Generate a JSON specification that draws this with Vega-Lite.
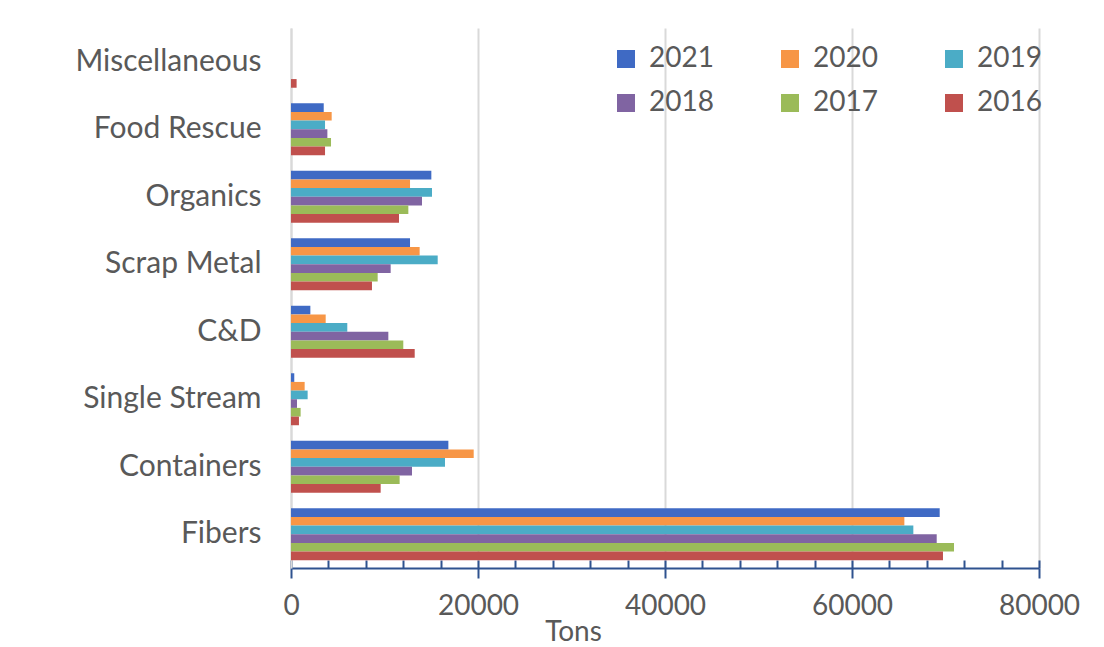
{
  "$schema": "https://vega.github.io/schema/vega-lite/v6.json",
  "width": 748,
  "height": 540,
  "autosize": {"type": "none"},
  "padding": {"left": 291, "top": 28, "right": 65, "bottom": 79},
  "background": "white",
  "config": {"view": {"stroke": null}, "font": "Lato"},
  "data": {
    "values": [
      {"category": "Miscellaneous", "year": "2021", "tons": 0},
      {"category": "Miscellaneous", "year": "2020", "tons": 0},
      {"category": "Miscellaneous", "year": "2019", "tons": 0},
      {"category": "Miscellaneous", "year": "2018", "tons": 0},
      {"category": "Miscellaneous", "year": "2017", "tons": 0},
      {"category": "Miscellaneous", "year": "2016", "tons": 600},
      {"category": "Food Rescue", "year": "2021", "tons": 3500},
      {"category": "Food Rescue", "year": "2020", "tons": 4350},
      {"category": "Food Rescue", "year": "2019", "tons": 3640},
      {"category": "Food Rescue", "year": "2018", "tons": 3890},
      {"category": "Food Rescue", "year": "2017", "tons": 4280},
      {"category": "Food Rescue", "year": "2016", "tons": 3640},
      {"category": "Organics", "year": "2021", "tons": 15010},
      {"category": "Organics", "year": "2020", "tons": 12730},
      {"category": "Organics", "year": "2019", "tons": 15080},
      {"category": "Organics", "year": "2018", "tons": 14010},
      {"category": "Organics", "year": "2017", "tons": 12550},
      {"category": "Organics", "year": "2016", "tons": 11550},
      {"category": "Scrap Metal", "year": "2021", "tons": 12730},
      {"category": "Scrap Metal", "year": "2020", "tons": 13760},
      {"category": "Scrap Metal", "year": "2019", "tons": 15690},
      {"category": "Scrap Metal", "year": "2018", "tons": 10660},
      {"category": "Scrap Metal", "year": "2017", "tons": 9270},
      {"category": "Scrap Metal", "year": "2016", "tons": 8660},
      {"category": "C&D", "year": "2021", "tons": 2070},
      {"category": "C&D", "year": "2020", "tons": 3710},
      {"category": "C&D", "year": "2019", "tons": 6020},
      {"category": "C&D", "year": "2018", "tons": 10410},
      {"category": "C&D", "year": "2017", "tons": 12010},
      {"category": "C&D", "year": "2016", "tons": 13230},
      {"category": "Single Stream", "year": "2021", "tons": 350},
      {"category": "Single Stream", "year": "2020", "tons": 1460},
      {"category": "Single Stream", "year": "2019", "tons": 1780},
      {"category": "Single Stream", "year": "2018", "tons": 640},
      {"category": "Single Stream", "year": "2017", "tons": 1030},
      {"category": "Single Stream", "year": "2016", "tons": 850},
      {"category": "Containers", "year": "2021", "tons": 16830},
      {"category": "Containers", "year": "2020", "tons": 19540},
      {"category": "Containers", "year": "2019", "tons": 16470},
      {"category": "Containers", "year": "2018", "tons": 12940},
      {"category": "Containers", "year": "2017", "tons": 11620},
      {"category": "Containers", "year": "2016", "tons": 9590},
      {"category": "Fibers", "year": "2021", "tons": 69380},
      {"category": "Fibers", "year": "2020", "tons": 65600},
      {"category": "Fibers", "year": "2019", "tons": 66560},
      {"category": "Fibers", "year": "2018", "tons": 69060},
      {"category": "Fibers", "year": "2017", "tons": 70910},
      {"category": "Fibers", "year": "2016", "tons": 69730}
    ]
  },
  "encoding": {
    "y": {
      "field": "category",
      "type": "nominal",
      "sort": ["Miscellaneous", "Food Rescue", "Organics", "Scrap Metal", "C&D", "Single Stream", "Containers", "Fibers"],
      "scale": {"paddingInner": 0.23, "paddingOuter": 0.115},
      "axis": {
        "title": null,
        "ticks": false,
        "grid": false,
        "domainColor": "#D9D9D9",
        "domainWidth": 2,
        "labelFontSize": 30,
        "labelColor": "#595959",
        "labelPadding": 30,
        "labelLimit": 300
      }
    },
    "yOffset": {
      "field": "year",
      "type": "nominal",
      "sort": ["2021", "2020", "2019", "2018", "2017", "2016"],
      "scale": {"paddingInner": 0, "paddingOuter": 0}
    }
  },
  "layer": [
    {
      "mark": {"type": "bar", "opacity": 0},
      "encoding": {
        "x": {
          "field": "tons",
          "type": "quantitative",
          "scale": {"domain": [0, 80000], "nice": false},
          "axis": {
            "orient": "bottom",
            "values": [0, 4000, 8000, 12000, 16000, 20000, 24000, 28000, 32000, 36000, 40000, 44000, 48000, 52000, 56000, 60000, 64000, 68000, 72000, 76000, 80000],
            "tickSize": -8,
            "tickColor": "#2F528F",
            "tickWidth": 2,
            "labels": false,
            "domain": false,
            "grid": false,
            "title": null
          }
        }
      }
    },
    {
      "mark": {"type": "bar"},
      "encoding": {
        "x": {
          "field": "tons",
          "type": "quantitative",
          "scale": {"domain": [0, 80000], "nice": false},
          "axis": {
            "orient": "bottom",
            "values": [0, 20000, 40000, 60000, 80000],
            "format": "d",
            "labelFontSize": 28,
            "labelColor": "#595959",
            "labelFlush": false,
            "labelPadding": 14,
            "tickSize": 10,
            "tickColor": "#2F528F",
            "tickWidth": 2,
            "domainColor": "#2F528F",
            "domainWidth": 2,
            "grid": true,
            "gridColor": "#D9D9D9",
            "gridWidth": 2,
            "title": "Tons",
            "titleFontSize": 28,
            "titleFontWeight": "normal",
            "titleColor": "#595959",
            "titleX": 282,
            "titleY": 64,
            "titleBaseline": "middle",
            "titleAlign": "center"
          }
        },
        "color": {
          "field": "year",
          "type": "nominal",
          "sort": ["2021", "2020", "2019", "2018", "2017", "2016"],
          "scale": {
            "domain": ["2021", "2020", "2019", "2018", "2017", "2016"],
            "range": ["#3F6AC4", "#F79646", "#4BACC6", "#8064A2", "#9BBB59", "#C0504D"]
          },
          "legend": {
            "orient": "none",
            "legendX": 321,
            "legendY": 17,
            "direction": "horizontal",
            "columns": 3,
            "title": null,
            "symbolType": "square",
            "symbolSize": 324,
            "symbolStrokeWidth": 0,
            "symbolOpacity": 1,
            "labelFontSize": 28,
            "labelColor": "#595959",
            "columnPadding": 62,
            "rowPadding": 16,
            "labelOffset": 9,
            "padding": 0
          }
        }
      }
    }
  ],
  "resolve": {"axis": {"x": "independent"}}
}
